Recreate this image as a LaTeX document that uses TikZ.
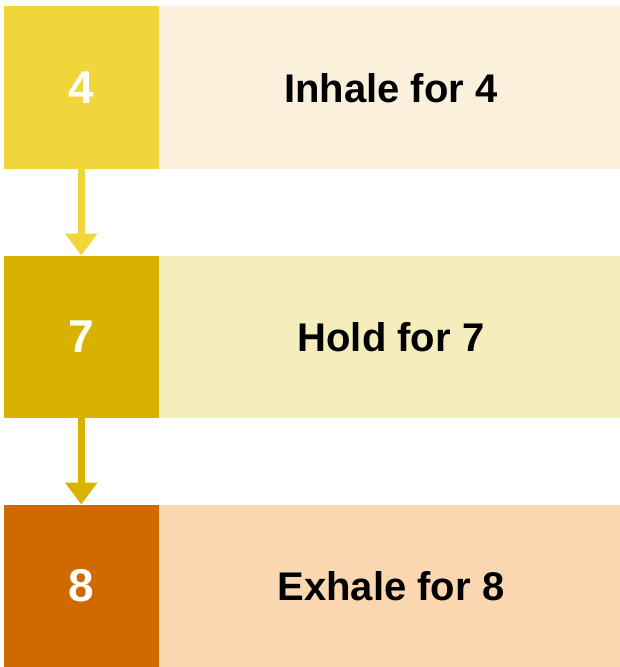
\documentclass[tikz,border=0pt]{standalone}
\usepackage{fontspec}
\setmainfont{Liberation Sans}
\usetikzlibrary{arrows.meta}
\definecolor{leftA}{HTML}{F0D63B}
\definecolor{rightA}{HTML}{FAF0DC}
\definecolor{leftB}{HTML}{D9B100}
\definecolor{rightB}{HTML}{F5EDBB}
\definecolor{leftC}{HTML}{D06A00}
\definecolor{rightC}{HTML}{FAD7B0}
\begin{document}
\begin{tikzpicture}[x=1pt,y=1pt,
  numbox/.style={inner sep=0pt, minimum width=155.5pt, minimum height=162.5pt, text=white,
    font=\fontsize{46}{46}\selectfont\bfseries},
  txtbox/.style={inner sep=0pt, minimum width=464pt, minimum height=162.5pt, text=black,
    font=\fontsize{40}{40}\selectfont\bfseries},
  flow/.style={line width=7.5pt, -{Triangle[width=31pt,length=22pt]}}]
\useasboundingbox (0,0) rectangle (619,667);
\node[txtbox, fill=rightA] (t1) at (391,579.25) {Inhale for 4};
\node[txtbox, fill=rightB] (t2) at (391,330) {Hold for 7};
\node[txtbox, fill=rightC] (t3) at (391,81) {Exhale for 8};
\node[numbox, fill=leftA] (n1) at (81.25,579.25) {4};
\node[numbox, fill=leftB] (n2) at (81.25,330) {7};
\node[numbox, fill=leftC] (n3) at (81.25,81) {8};
\draw[flow, leftA] (n1.south) -- (n2.north);
\draw[flow, leftB] (n2.south) -- (n3.north);
\end{tikzpicture}
\end{document}
